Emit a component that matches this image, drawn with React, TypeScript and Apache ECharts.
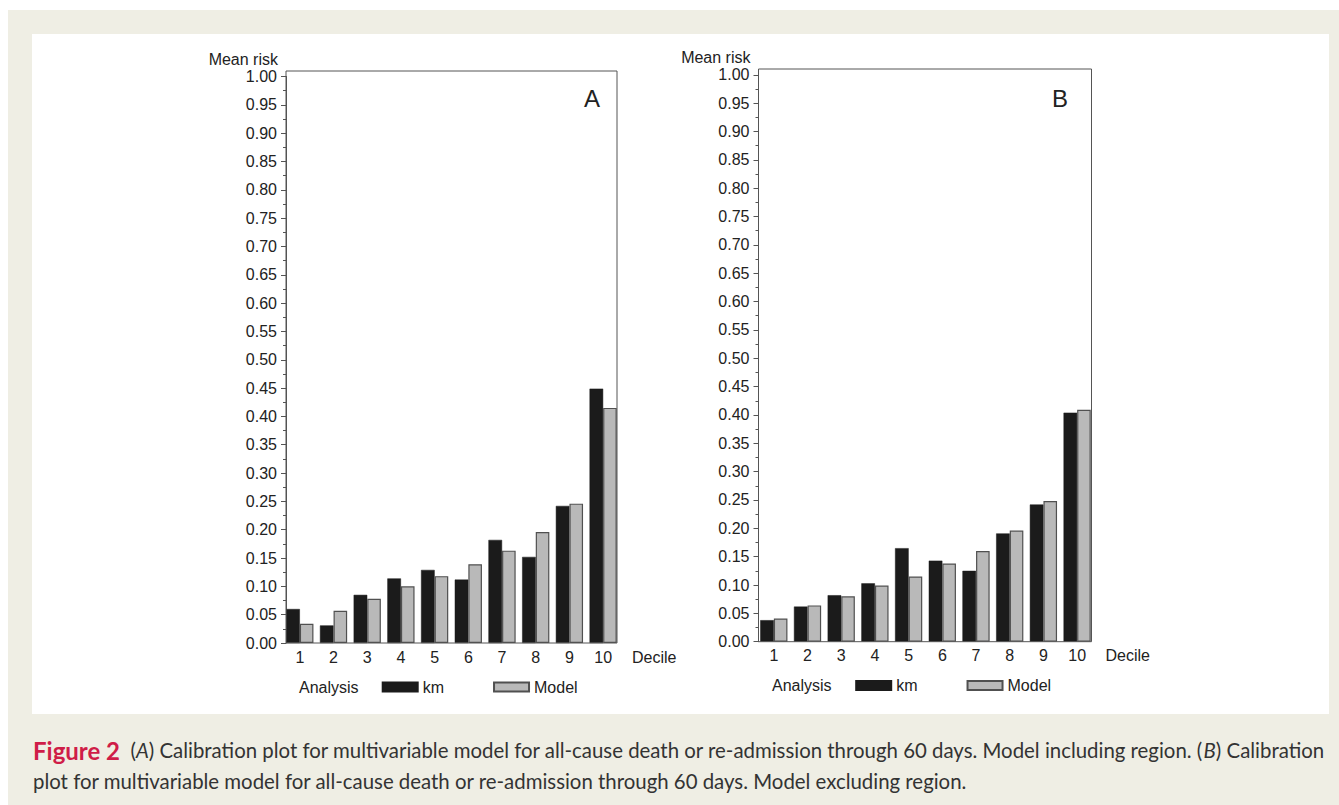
import React, { useEffect, useRef } from "react";
import * as echarts from "echarts";

const deciles = ["1", "2", "3", "4", "5", "6", "7", "8", "9", "10"];
const kmA = [0.060, 0.031, 0.085, 0.114, 0.129, 0.112, 0.182, 0.152, 0.242, 0.449];
const modelA = [0.034, 0.057, 0.078, 0.100, 0.118, 0.139, 0.163, 0.196, 0.246, 0.415];
const kmB = [0.038, 0.062, 0.082, 0.103, 0.165, 0.143, 0.125, 0.191, 0.242, 0.404];
const modelB = [0.041, 0.064, 0.080, 0.099, 0.115, 0.138, 0.160, 0.196, 0.248, 0.409];
const yMin = 0;
const yMax = 1;
const yStep = 0.05;

const captionLine1 =
  "{f|Figure 2}  ({i|A}) Calibration plot for multivariable model for all-cause death or re-admission through 60 days. Model including region. ({i|B}) Calibration";
const captionLine2 =
  "plot for multivariable model for all-cause death or re-admission through 60 days. Model excluding region.";

const FONT = "'Liberation Sans', Arial, sans-serif";
const CAP_FONT = "Lato, 'Open Sans', sans-serif";
const CAP_SIZE = 20.4;
const TXT = "#222";
const AXIS = "#555";

const panels = [
  { label: "A", km: kmA, model: modelA, gridLeft: 283, gridTop: 76.5, gridH: 566.5, frameL: 286, frameR: 617, frameT: 71, dx: 0, dy: 0 },
  { label: "B", km: kmB, model: modelB, gridLeft: 757, gridTop: 74.8, gridH: 566.9, frameL: 758.5, frameR: 1091.5, frameT: 69, dx: 473.5, dy: -1.5 },
];

export default function App() {
  const ref = useRef<HTMLDivElement>(null);
  useEffect(() => {
    if (!ref.current) return;
    const chart = echarts.init(ref.current, null, { renderer: "svg" });
    const grids: any[] = [];
    const xAxes: any[] = [];
    const yAxes: any[] = [];
    const series: any[] = [];
    const legends: any[] = [];
    const graphics: any[] = [
      { type: "rect", z: -10, silent: true, shape: { x: 8, y: 10, width: 1331, height: 795 }, style: { fill: "#efeee4" } },
      { type: "rect", z: -9, silent: true, shape: { x: 32, y: 34, width: 1297, height: 680 }, style: { fill: "#ffffff" } },
      {
        type: "text", x: 33, y: 750, silent: true,
        style: {
          text: captionLine1, fontFamily: CAP_FONT, fontSize: CAP_SIZE, fill: "#333",
          verticalAlign: "middle", align: "left",
          rich: {
            f: { fontWeight: "bold", fill: "#cf1d48", fontSize: 24, fontFamily: CAP_FONT },
            i: { fontStyle: "italic", fill: "#333", fontSize: CAP_SIZE, fontFamily: CAP_FONT },
          },
        },
      },
      {
        type: "text", x: 33, y: 781, silent: true,
        style: { text: captionLine2, fontFamily: CAP_FONT, fontSize: CAP_SIZE, fill: "#333", verticalAlign: "middle", align: "left" },
      },
    ];

    panels.forEach((p, i) => {
      const baseline = p.gridTop + p.gridH;
      grids.push({ left: p.gridLeft, top: p.gridTop, width: 337, height: p.gridH, containLabel: false });
      xAxes.push({
        type: "category", gridIndex: i, data: deciles,
        axisLine: { show: false }, axisTick: { show: false },
        axisLabel: { fontSize: 16, fontFamily: FONT, color: TXT, margin: 6 },
      });
      yAxes.push({
        type: "value", gridIndex: i, min: yMin, max: yMax, interval: yStep,
        offset: -(p.frameL - p.gridLeft),
        axisLine: { show: true, lineStyle: { color: AXIS, width: 1 } },
        axisTick: { show: true, length: 5, lineStyle: { color: AXIS } },
        minorTick: { show: true, splitNumber: 2, length: 3, lineStyle: { color: AXIS } },
        splitLine: { show: false },
        axisLabel: { fontSize: 16, fontFamily: FONT, color: TXT, margin: 9, formatter: (v: number) => v.toFixed(2) },
      });
      series.push({
        name: "km", type: "bar", xAxisIndex: i, yAxisIndex: i, data: p.km,
        barWidth: 13.6, barGap: "0%",
        itemStyle: { color: "#1b1b1b", borderColor: "#1b1b1b", borderWidth: 0.5 },
      });
      series.push({
        name: "Model", type: "bar", xAxisIndex: i, yAxisIndex: i, data: p.model,
        barWidth: 13.6, barGap: "0%",
        itemStyle: { color: "#b9b9b9", borderColor: "#505050", borderWidth: 1.2 },
      });
      legends.push({
        data: ["km", "Model"], left: 381.7 + p.dx, top: 679 + p.dy, padding: 0,
        icon: "rect", itemWidth: 35, itemHeight: 9, itemGap: 49, selectedMode: false,
        textStyle: { fontSize: 16, fontFamily: FONT, color: TXT },
      });
      graphics.push({
        type: "rect", z: 20, silent: true,
        shape: { x: p.frameL, y: p.frameT, width: p.frameR - p.frameL, height: baseline - p.frameT },
        style: { fill: "none", stroke: AXIS, lineWidth: 1 },
      });
      graphics.push({
        type: "text", z: 20, silent: true, x: p.frameL - 8, y: 59 + p.dy,
        style: { text: "Mean risk", fontSize: 16, fontFamily: FONT, fill: TXT, align: "right", verticalAlign: "middle" },
      });
      graphics.push({
        type: "text", z: 20, silent: true, x: 592 + p.dx - (i === 1 ? 5.5 : 0), y: 98,
        style: { text: p.label, fontSize: 24, fontFamily: FONT, fill: TXT, align: "center", verticalAlign: "middle" },
      });
      graphics.push({
        type: "text", z: 20, silent: true, x: 632 + p.dx, y: 657 + p.dy,
        style: { text: "Decile", fontSize: 16, fontFamily: FONT, fill: TXT, align: "left", verticalAlign: "middle" },
      });
      graphics.push({
        type: "text", z: 20, silent: true, x: 299 + p.dx - (i === 1 ? 0.5 : 0), y: 687 + p.dy,
        style: { text: "Analysis", fontSize: 16, fontFamily: FONT, fill: TXT, align: "left", verticalAlign: "middle" },
      });
    });

    chart.setOption({
      animation: false,
      grid: grids,
      xAxis: xAxes,
      yAxis: yAxes,
      series,
      legend: legends,
      graphic: graphics,
    });
    return () => chart.dispose();
  }, []);
  return (
    <div
      ref={ref}
      style={{ position: "fixed", left: 0, top: 0, width: 1339, height: 805, background: "#ffffff" }}
    />
  );
}
